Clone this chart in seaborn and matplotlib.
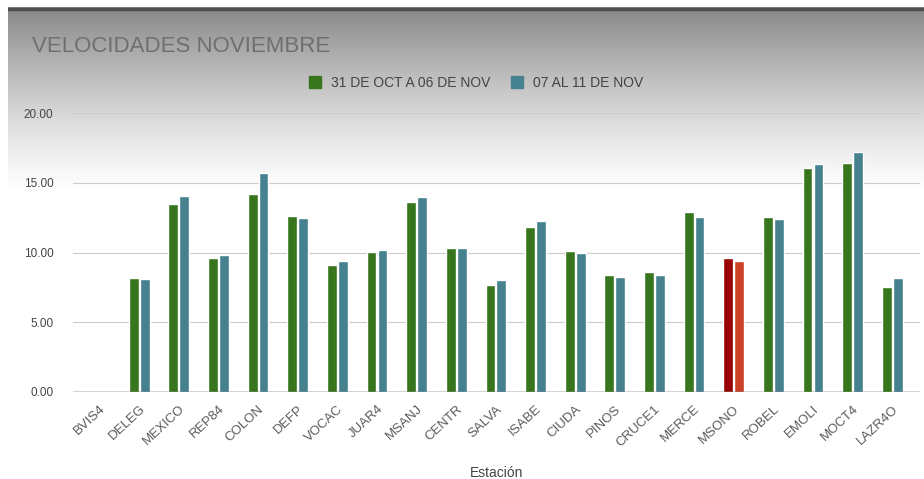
import numpy as np
import pandas as pd
import matplotlib
matplotlib.use('Agg')
import matplotlib.pyplot as plt
import seaborn as sns

estaciones = ['BVIS4', 'DELEG', 'MEXICO', 'REP84', 'COLON', 'DEFP', 'VOCAC', 'JUAR4', 'MSANJ',
              'CENTR', 'SALVA', 'ISABE', 'CIUDA', 'PINOS', 'CRUCE1', 'MERCE', 'MSONO', 'ROBEL',
              'EMOLI', 'MOCT4', 'LAZR4O']
sem1 = [0, 8.19, 13.46, 9.58, 14.20, 12.64, 9.10, 10.01, 13.65, 10.34, 7.69, 11.83, 10.08,
        8.36, 8.57, 12.91, 9.60, 12.57, 16.04, 16.40, 7.54]
sem2 = [0, 8.09, 14.06, 9.84, 15.73, 12.50, 9.41, 10.20, 13.98, 10.32, 8.02, 12.24, 9.94,
        8.26, 8.36, 12.57, 9.41, 12.40, 16.31, 17.22, 8.19]
series = ['31 DE OCT A 06 DE NOV', '07 AL 11 DE NOV']
colores = ['#38761d', '#45818e']
destacada = 'MSONO'
colores_destacada = ['#990000', '#cc4125']

df = pd.DataFrame({'Estación': estaciones * 2,
                   'Velocidad': sem1 + sem2,
                   'Periodo': [series[0]] * len(estaciones) + [series[1]] * len(estaciones)})

sns.set_style('white')
plt.rcParams['font.family'] = ['Liberation Sans', 'DejaVu Sans']

fig = plt.figure(figsize=(9.24, 4.79), dpi=100)

# grey shading at the top of the screenshot
bg = fig.add_axes([8 / 924, 0, 1 - 8 / 924, 1 - 7 / 479], zorder=-10)
yy = np.linspace(0, 1, 472)
shade = np.clip(1 - yy / 0.40, 0, 1)
grad = 1 - 0.47 * shade ** 1.3
bg.imshow(np.tile(grad[:, None], (1, 10)), cmap='gray', vmin=0, vmax=1, aspect='auto',
          extent=[0, 1, 0, 1])
bg.axhline(0.995, color='#505050', lw=2.5)
bg.set_axis_off()

ax = fig.add_axes([73 / 924, 1 - 392 / 479, 847 / 924, (392 - 113) / 479])
ax.set_facecolor('none')
sns.barplot(data=df, x='Estación', y='Velocidad', hue='Periodo', palette=colores,
            width=0.55, gap=0.1, ax=ax, legend=False, saturation=1)

i = estaciones.index(destacada)
for cont, c in zip(ax.containers, colores_destacada):
    cont.patches[i].set_facecolor(c)

ax.set_ylim(0, 20)
ax.set_xlim(-0.67, len(estaciones) - 0.3)
ax.set_yticks([0, 5, 10, 15, 20])
ax.set_yticklabels([f'{v:.2f}' for v in [0, 5, 10, 15, 20]], fontsize=8.5, color='#444444')
ax.yaxis.grid(True, color='#cccccc', lw=0.8)
ax.set_axisbelow(True)
for s in ax.spines.values():
    s.set_visible(False)
ax.axhline(0, color='#333333', lw=1, zorder=3)
ax.tick_params(axis='y', length=0, pad=14)
ax.tick_params(axis='x', length=0, pad=8)
plt.setp(ax.get_xticklabels(), rotation=43, ha='right', rotation_mode='anchor',
         fontsize=9.5, color='#5a5a5a')
ax.set_ylabel('')
ax.set_xlabel('Estación', fontsize=10, color='#444444', labelpad=12)

fig.text(32 / 924, 1 - 47 / 479, 'VELOCIDADES NOVIEMBRE', fontsize=16, color='#6f6f6f',
         va='center', ha='left')

handles = [plt.Rectangle((0, 0), 1, 1, color=c) for c in colores]
fig.legend(handles, series, loc='center', bbox_to_anchor=(476 / 924, 1 - 83 / 479), ncol=2,
           frameon=False, fontsize=10, handlelength=0.9, handleheight=0.9, handletextpad=0.7,
           columnspacing=1.5, labelcolor='#444444')

fig.savefig('out.png', dpi=100)
